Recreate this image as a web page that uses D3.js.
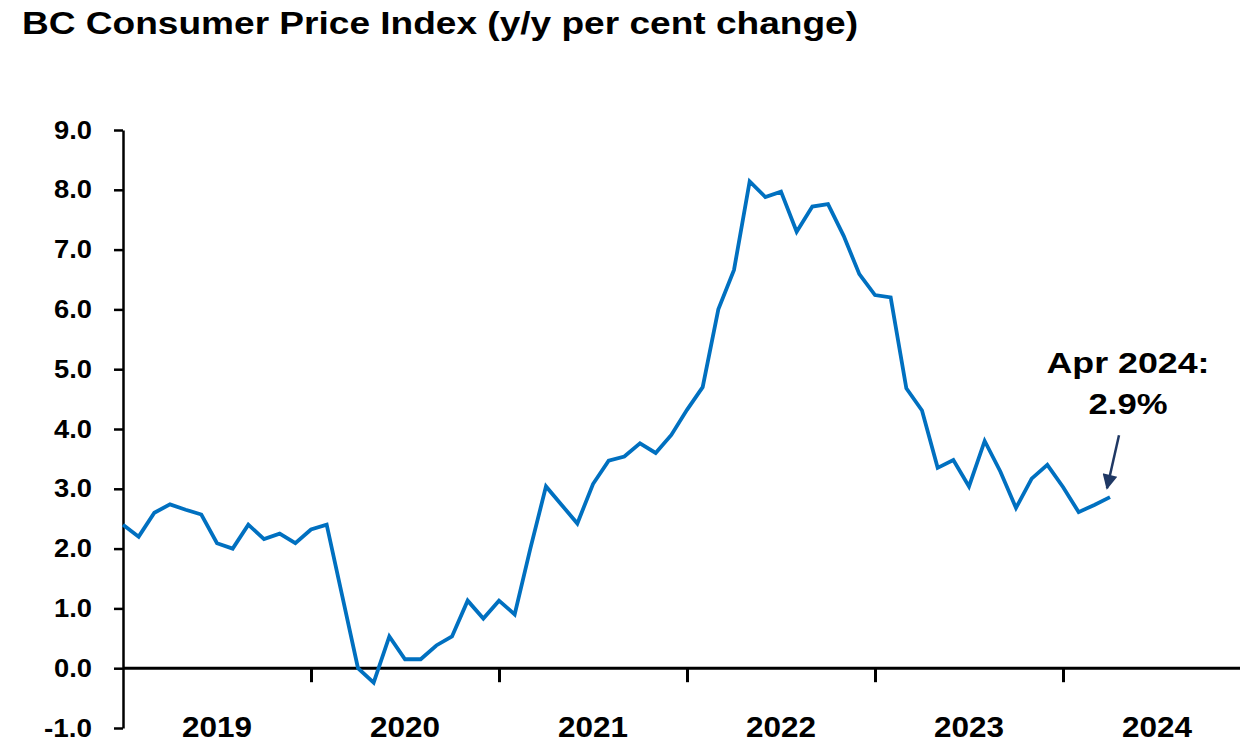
<!DOCTYPE html>
<html>
<head>
<meta charset="utf-8">
<script src="https://cdn.jsdelivr.net/npm/d3@7"></script>
<style>
  body { margin: 0; background: #fff; }
  text { font-family: "Liberation Sans", Arial, sans-serif; font-weight: bold; }
</style>
</head>
<body>
<svg width="1243" height="739"></svg>
<script>
/**************************************************************************/
// data: BC CPI, y/y % change, monthly from Jan 2019 to Apr 2024
var years = ['2019', '2020', '2021', '2022', '2023', '2024'];
var yTicks = [-1, 0, 1, 2, 3, 4, 5, 6, 7, 8, 9];
var cpi = [
    2.4, 2.2, 2.6, 2.74, 2.65, 2.57, 2.09, 2.0, 2.4, 2.16, 2.25, 2.09,   // 2019
    2.32, 2.4, 1.2, 0.0, -0.24, 0.53, 0.15, 0.15, 0.38, 0.53, 1.13, 0.83, // 2020
    1.13, 0.9, 2.0, 3.04, 2.73, 2.42, 3.08, 3.47, 3.54, 3.76, 3.6, 3.9,  // 2021
    4.32, 4.7, 6.0, 6.66, 8.14, 7.88, 7.97, 7.3, 7.72, 7.76, 7.23, 6.59, // 2022
    6.24, 6.2, 4.68, 4.31, 3.35, 3.48, 3.04, 3.8, 3.29, 2.68, 3.17, 3.4, // 2023
    3.03, 2.61, 2.73, 2.86                                               // 2024
];
var lastLabel = ['Apr 2024:', '2.9%'];
/**************************************************************************/

var svg = d3.select('svg');

var x = d3.scaleLinear()
    .domain([0, years.length * 12])
    .range([123, 1251]);

var y = d3.scaleLinear()
    .domain([-1, 9])
    .range([728, 130]);

// title (text in the original is a bit wide, so stretch it)
svg.append('text')
    .attr('x', 22)
    .attr('y', 34)
    .attr('textLength', 836)
    .attr('lengthAdjust', 'spacingAndGlyphs')
    .style('font-size', '31px')
    .text('BC Consumer Price Index (y/y per cent change)');

// y axis
var yAxis = svg.append('g')
    .attr('transform', 'translate(123,0)')
    .call(d3.axisLeft(y)
        .tickValues(yTicks)
        .tickSize(9)
        .tickSizeOuter(0)
        .tickPadding(22)
        .tickFormat(function(d) { return d.toFixed(1); }));
yAxis.selectAll('line, path').attr('stroke', '#000').attr('stroke-width', 2.5);
yAxis.selectAll('text')
    .attr('fill', '#000')
    .attr('textLength', function(d) { return d < 0 ? 48 : 38; })
    .attr('lengthAdjust', 'spacingAndGlyphs')
    .style('font-size', '25px')
    .style('font-family', '"Liberation Sans", Arial, sans-serif');

// x axis sits on zero
var xAxis = svg.append('g')
    .attr('transform', 'translate(0,' + y(0) + ')')
    .call(d3.axisBottom(x)
        .tickValues(d3.range(1, years.length).map(function(i) { return i * 12; }))
        .tickSize(14)
        .tickSizeOuter(0)
        .tickFormat(''));
xAxis.select('path.domain').attr('d', 'M' + x(0) + ',0H1240');
xAxis.selectAll('line, path').attr('stroke', '#000').attr('stroke-width', 3);

svg.selectAll('text.year')
    .data(years).enter().append('text')
    .classed('year', true)
    .attr('x', function(d, i) { return x(i * 12 + 6); })
    .attr('y', 737)
    .attr('text-anchor', 'middle')
    .attr('textLength', 70)
    .attr('lengthAdjust', 'spacingAndGlyphs')
    .style('font-size', '29px')
    .text(function(d) { return d; });

// the line
var line = d3.line()
    .x(function(d, i) { return x(i); })
    .y(function(d) { return y(d); });

svg.append('path')
    .datum(cpi)
    .attr('fill', 'none')
    .attr('stroke', '#0070C0')
    .attr('stroke-width', 3.8)
    .attr('stroke-linejoin', 'miter')
    .attr('d', line);

// annotation for the last point
var lx = x(cpi.length - 1);
var ly = y(cpi[cpi.length - 1]);

svg.append('defs').append('marker')
    .attr('id', 'head')
    .attr('markerUnits', 'userSpaceOnUse')
    .attr('viewBox', '0 0 10 10')
    .attr('refX', 9)
    .attr('refY', 5)
    .attr('markerWidth', 18)
    .attr('markerHeight', 15)
    .attr('orient', 'auto')
    .append('path')
    .attr('d', 'M0,0L10,5L0,10z')
    .attr('fill', '#1F3864');

svg.append('line')
    .attr('x1', lx + 9)
    .attr('y1', ly - 62)
    .attr('x2', lx - 3)
    .attr('y2', ly - 9)
    .attr('stroke', '#1F3864')
    .attr('stroke-width', 2.5)
    .attr('marker-end', 'url(#head)');

svg.selectAll('text.note')
    .data(lastLabel).enter().append('text')
    .classed('note', true)
    .attr('x', lx + 18)
    .attr('y', function(d, i) { return ly - 124 + i * 41; })
    .attr('text-anchor', 'middle')
    .attr('textLength', function(d, i) { return i ? 79 : 163; })
    .attr('lengthAdjust', 'spacingAndGlyphs')
    .style('font-size', '30px')
    .text(function(d) { return d; });
</script>
</body>
</html>
